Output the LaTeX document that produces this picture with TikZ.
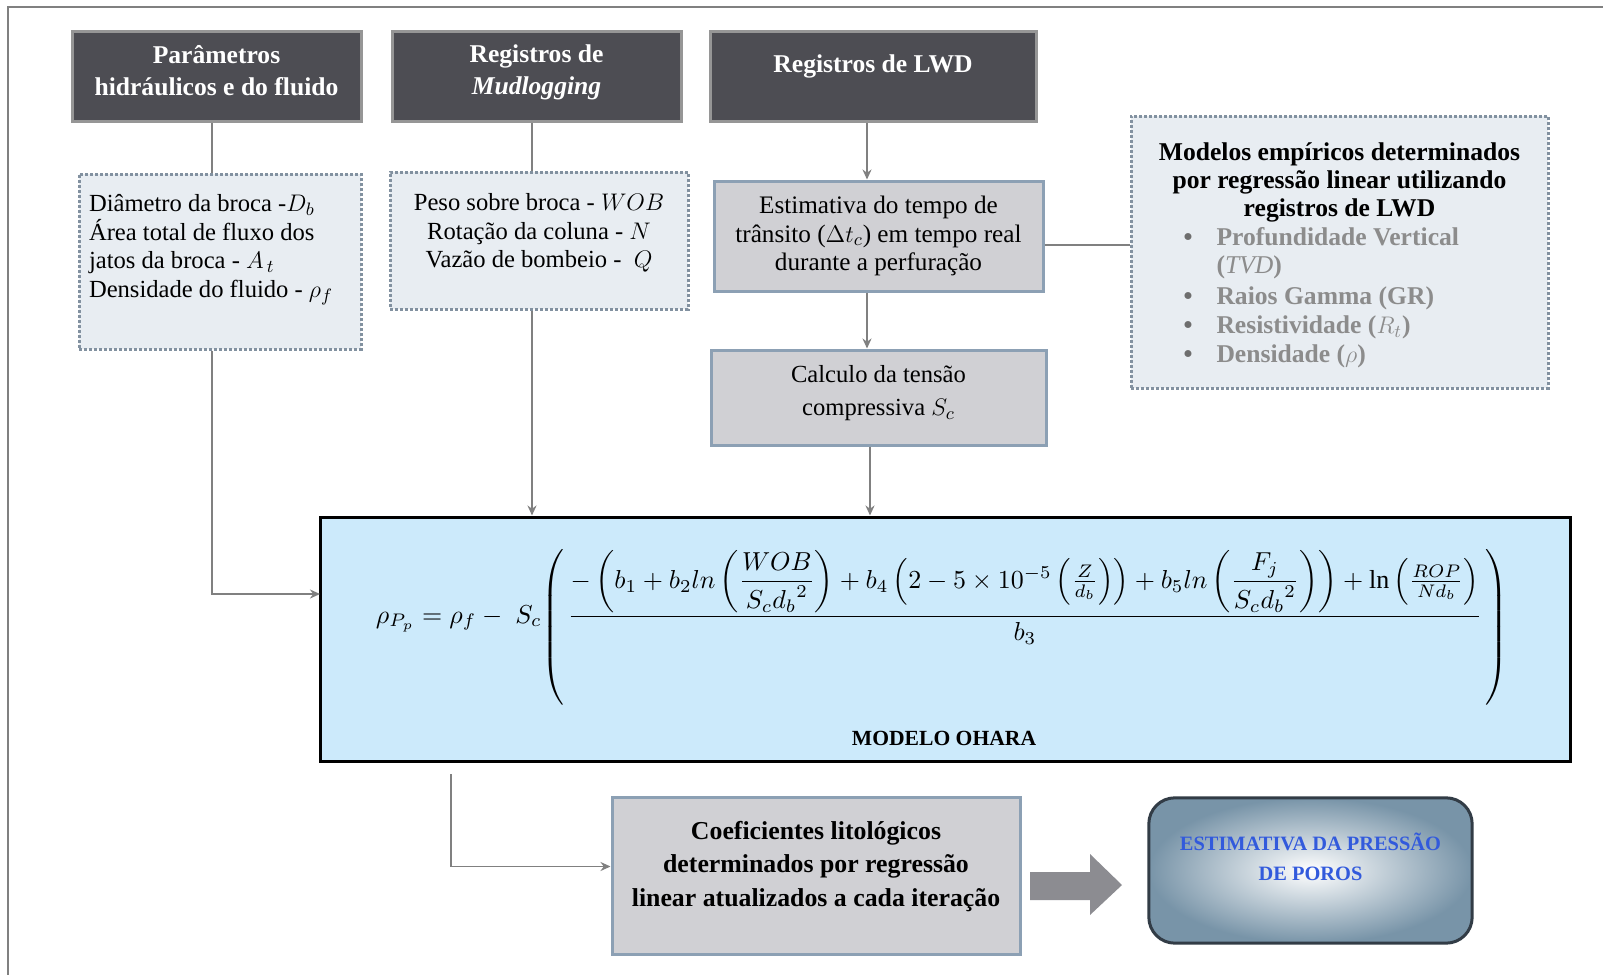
\documentclass[tikz,border=0pt]{standalone}
\usepackage{amsmath}
\usepackage{fontspec}
\setmainfont{Liberation Serif}
\usetikzlibrary{arrows.meta,calc}
\definecolor{dkfill}{RGB}{77,77,83}
\definecolor{dkborder}{RGB}{150,150,150}
\definecolor{dotfill}{RGB}{232,237,242}
\definecolor{dotborder}{RGB}{130,145,160}
\definecolor{gyfill}{RGB}{208,208,212}
\definecolor{gyborder}{RGB}{140,160,180}
\definecolor{ohfill}{RGB}{204,234,251}
\definecolor{porosedge}{RGB}{120,148,168}
\definecolor{porosborder}{RGB}{50,60,70}
\definecolor{porostext}{RGB}{50,90,220}
\definecolor{arrowgray}{RGB}{140,140,145}
\definecolor{lncolor}{RGB}{128,128,128}
\definecolor{framecol}{RGB}{128,128,128}
\definecolor{txtgray}{RGB}{140,140,140}
\definecolor{bulgray}{RGB}{110,110,110}
\newcommand\myblt[1]{\par\noindent\hspace*{23pt}\makebox[16.5pt][l]{\textcolor{bulgray}{\textbullet}}\parbox[t]{150pt}{\raggedright #1\strut}}
\newcommand\bodyfont{\fontsize{12.3}{14.3}\selectfont}
\newcommand\bigparL{\raisebox{-4pt}{$\displaystyle\left(\vphantom{\rule[-30pt]{0pt}{60pt}}\right.$}}
\newcommand\bigparR{\raisebox{-4pt}{$\displaystyle\left.\vphantom{\rule[-30pt]{0pt}{60pt}}\right)$}}
\tikzset{
 darkbox/.style={draw=dkborder, line width=1.5pt, fill=dkfill, text=white, font=\fontsize{12.8}{16}\selectfont\bfseries, inner sep=2pt},
 dotbox/.style={draw=dotborder, dash pattern=on 1.5pt off 1pt, line width=1.5pt, fill=dotfill, inner sep=2pt},
 graybox/.style={draw=gyborder, line width=1.5pt, fill=gyfill, align=center, inner sep=2pt},
 conn/.style={draw=lncolor, line width=0.8pt},
 arr/.style={conn, -{Stealth[length=5pt,width=4.5pt]}},
}
\begin{document}
\begin{tikzpicture}[x=0.5pt,y=-0.5pt]
\useasboundingbox (0,0) rectangle (1603,975);
\fill[white] (0,0) rectangle (1603,975);
\draw[framecol, line width=1.2pt] (8,975) -- (8,7) -- (1603,7);

% top dark boxes
\node[darkbox, minimum width=144.5pt, minimum height=45pt] (box1) at (216.5,76)
 {\begin{minipage}[c][40pt][t]{140pt}\centering\vspace*{4.5pt}Parâmetros\\hidráulicos e do fluido\end{minipage}};
\node[darkbox, minimum width=144.5pt, minimum height=45pt] (box2) at (536.5,76)
 {\begin{minipage}[c][40pt][t]{140pt}\centering\vspace*{4.5pt}Registros de\\\textit{Mudlogging}\end{minipage}};
\node[darkbox, minimum width=163pt, minimum height=45pt] (box3) at (873,76)
 {\begin{minipage}[c][40pt][t]{158pt}\centering\vspace*{9.5pt}Registros de LWD\end{minipage}};

% dotted boxes
\node[dotbox, minimum width=141pt, minimum height=87.5pt, font=\bodyfont] (dot1) at (220,261.5)
 {\begin{minipage}[c][82pt][t]{131pt}\raggedright\vspace*{7.5pt}Diâmetro da broca -$D_b$\\Área total de fluxo dos\\jatos da broca - $A_{\,t}$\\Densidade do fluido - $\rho_f$\end{minipage}};
\node[dotbox, minimum width=149pt, minimum height=68.5pt, font=\bodyfont] (dot2) at (539,240.5)
 {\begin{minipage}[c][63pt][t]{144pt}\centering\vspace*{8pt}Peso sobre broca - $WOB$\\Rotação da coluna - $N$\\Vazão de bombeio -\ \ $Q$\end{minipage}};

% LWD chain
\node[graybox, minimum width=164.5pt, minimum height=55pt, font=\fontsize{12.6}{14.3}\selectfont] (est) at (878.5,236)
 {Estimativa do tempo de\\trânsito ($\Delta t_c$) em tempo real\\durante a perfuração};
\node[graybox, minimum width=167.5pt, minimum height=47.5pt, font=\fontsize{12.3}{16.5}\selectfont] (calc) at (878.5,397.5)
 {\begin{minipage}[c][43pt][t]{160pt}\centering\vspace*{5.5pt}Calculo da tensão\\compressiva $S_c$\end{minipage}};

% right box
\node[dotbox, minimum width=208.5pt, minimum height=136pt, font=\fontsize{12.8}{13.9}\selectfont] (right) at (1339.5,252)
 {\begin{minipage}[c][130pt][t]{202pt}\vspace*{10.5pt}\centering\bfseries Modelos empíricos determinados\\por regressão linear utilizando\\registros de LWD\par\raggedright\color{txtgray}\fontsize{12.8}{14.4}\selectfont
 \myblt{Profundidade Vertical\\($\mathit{TVD}$)}
 \myblt{Raios Gamma (GR)}
 \myblt{Resistividade ($R_t$)}
 \myblt{Densidade ($\rho$)}
 \end{minipage}};

% Ohara model
\node[draw=black, line width=1.5pt, fill=ohfill, minimum width=625pt, minimum height=122pt] (ohara) at (945,639) {};
\node[anchor=base, inner sep=0pt] (formula) at (942,623) {\resizebox{566pt}{!}{$\displaystyle
 \rho_{P_p} = \rho_f -\; S_c\bigparL\frac{-\left(b_1 + b_2 ln\left(\dfrac{WOB}{S_c{d_b}^2}\right) + b_4\left(2-5\times10^{-5}\left(\tfrac{Z}{d_b}\right)\right) + b_5 ln\left(\dfrac{F_j}{S_c{d_b}^2}\right)\right) + \ln\left(\tfrac{ROP}{Nd_b}\right)}{b_3}\bigparR$}};
\node[font=\fontsize{10.8}{14}\selectfont\bfseries] (olabel) at (944,738) {MODELO OHARA};

% bottom
\node[graybox, minimum width=203pt, minimum height=78.5pt, font=\fontsize{12.9}{16.6}\selectfont\bfseries] (coef) at (816,875.5)
 {\begin{minipage}[c][72pt][t]{200pt}\centering\vspace*{9pt}Coeficientes litológicos\\determinados por regressão\\linear atualizados a cada iteração\end{minipage}};
\node[draw=porosborder, line width=1.5pt, rounded corners=13pt, shading=radial, inner color=white, outer color=porosedge,
 minimum width=158.5pt, minimum height=72.5pt, font=\fontsize{10.2}{15}\selectfont\bfseries, text=porostext] (poros) at (1310.5,870.5)
 {\begin{minipage}[c][66pt][t]{155pt}\centering\vspace*{14pt}ESTIMATIVA DA PRESSÃO\\DE POROS\end{minipage}};

% connectors
\coordinate (xa) at (212,0);
\coordinate (xb) at (532,0);
\coordinate (xc) at (867,0);
\coordinate (xd) at (870,0);
\coordinate (ya) at (0,245);
\coordinate (c1) at (320,594);
\coordinate (c2) at (451,774);
\draw[conn] (box1.south -| xa) -- (dot1.north -| xa);
\draw[conn] (box2.south -| xb) -- (dot2.north -| xb);
\draw[arr] (box3.south -| xc) -- (est.north -| xc);
\draw[arr] (est.south -| xc) -- (calc.north -| xc);
\draw[conn] (est.east |- ya) -- (right.west |- ya);
\draw[arr] (dot1.south -| xa) |- (c1);
\draw[arr] (dot2.south -| xb) -- (ohara.north -| xb);
\draw[arr] (calc.south -| xd) -- (ohara.north -| xd);
\draw[arr] (c2) |- ($(coef.west)+(0,-9)$);
\fill[arrowgray] (1030,872) -- (1090,872) -- (1090,854) -- (1122,885) -- (1090,915) -- (1090,900) -- (1030,900) -- cycle;
\end{tikzpicture}
\end{document}
